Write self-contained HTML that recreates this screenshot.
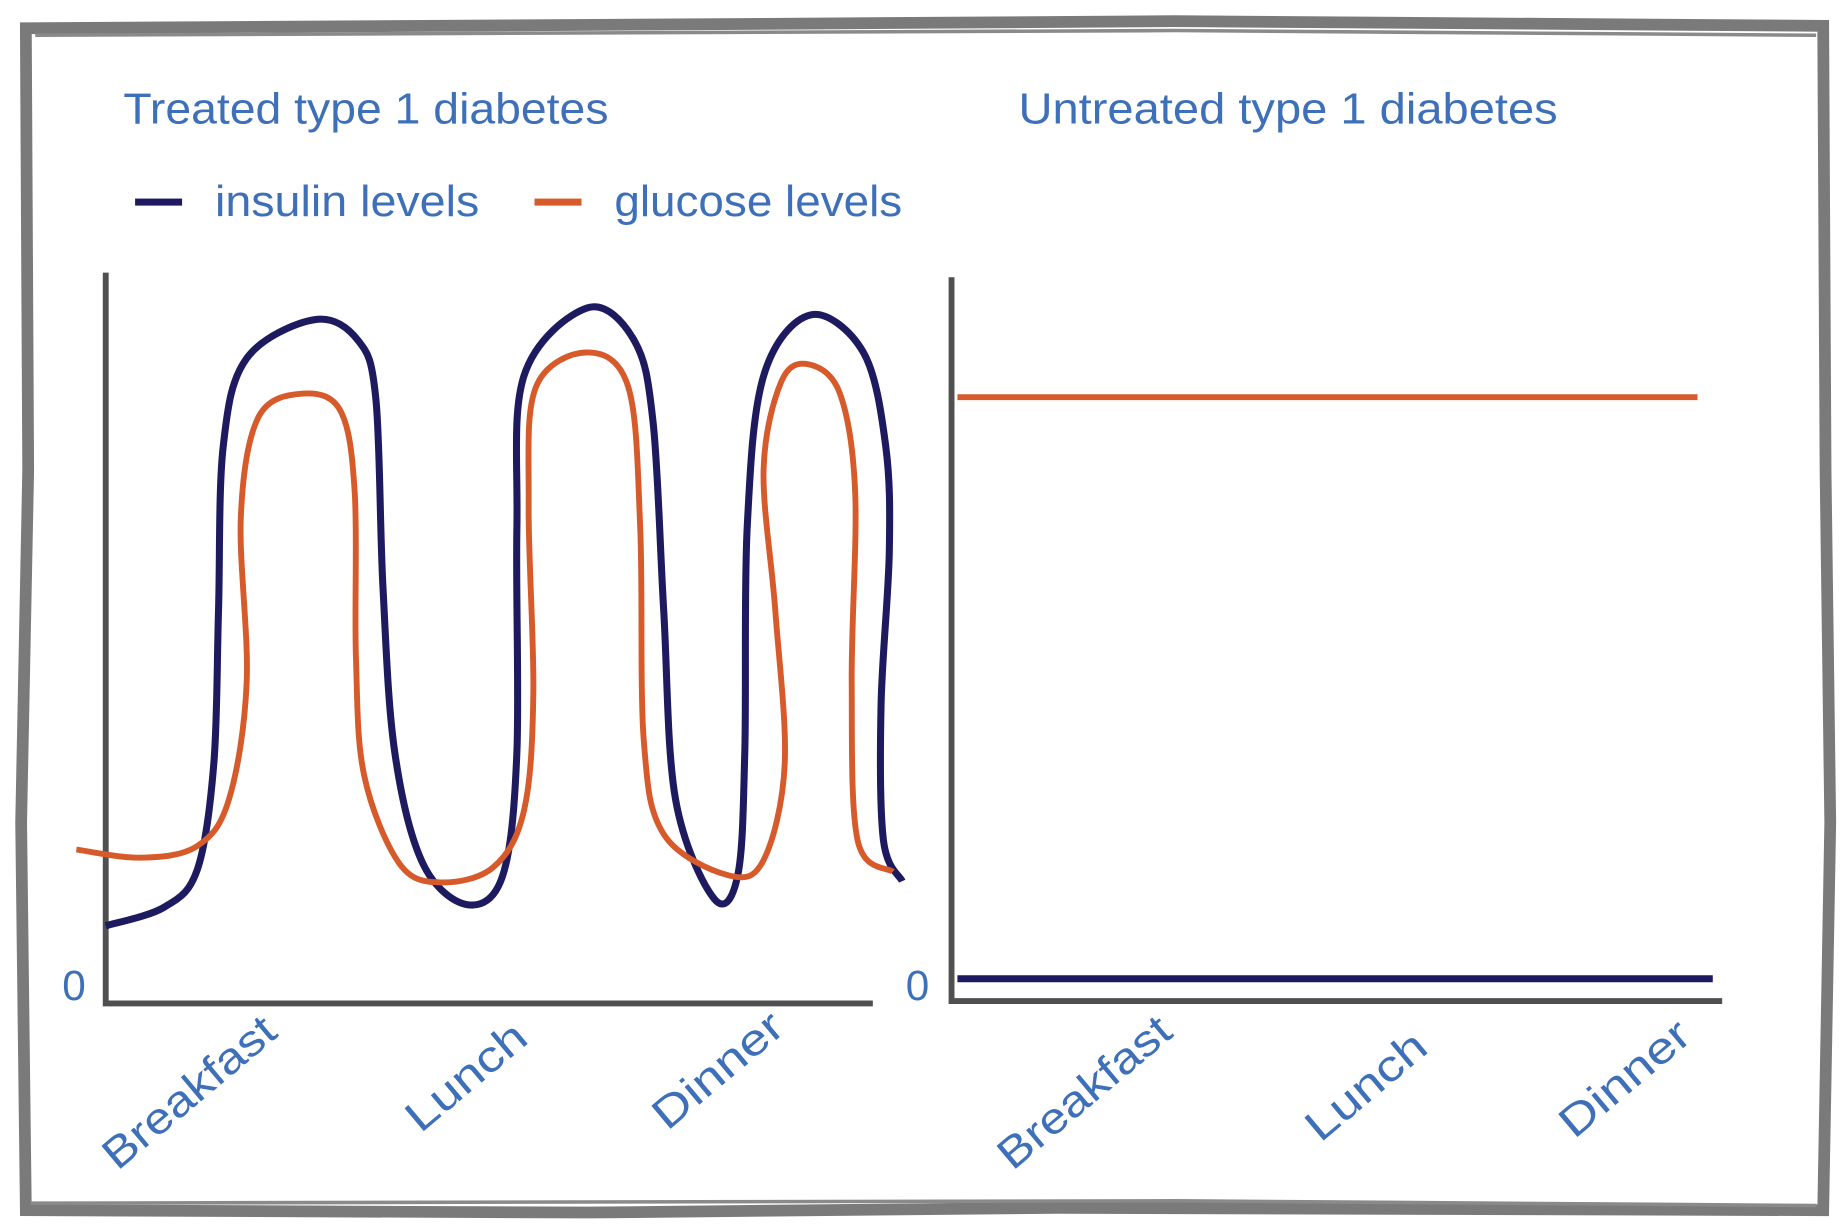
<!DOCTYPE html>
<html><head><meta charset="utf-8"><style>
html,body{margin:0;padding:0;background:#fff;}
svg{display:block}
text{font-family:"Liberation Sans",sans-serif;fill:#3e6fb9;}
</style></head><body>
<svg width="1842" height="1229" viewBox="0 0 1568 1046" preserveAspectRatio="none" xmlns="http://www.w3.org/2000/svg">
<rect width="1568" height="1046" fill="#fff"/>
<path d="M22,24 L700,20 L1000,18 L1552,22 L1554,400 L1558,700 L1552,1030 L900,1028 L500,1032 L22,1030 L18,700 L24,400 Z" fill="none" stroke="#7a7a7a" stroke-width="10"/>
<path d="M30,30 L1000,26 L1546,30" fill="none" stroke="#8a8a8a" stroke-width="3"/>
<path d="M26,1024 L1000,1022 L1546,1026" fill="none" stroke="#8a8a8a" stroke-width="3"/>

<text x="105" y="105" font-size="37" textLength="413" lengthAdjust="spacingAndGlyphs">Treated type 1 diabetes</text>
<text x="867" y="105" font-size="37" textLength="459" lengthAdjust="spacingAndGlyphs">Untreated type 1 diabetes</text>
<rect x="115" y="169" width="40" height="6" fill="#1e1a60"/>
<text x="183" y="184" font-size="37" textLength="225" lengthAdjust="spacingAndGlyphs">insulin levels</text>
<rect x="455" y="169" width="40" height="6" fill="#d65a2a"/>
<text x="523" y="184" font-size="37" textLength="245" lengthAdjust="spacingAndGlyphs">glucose levels</text>

<g stroke="#505050" stroke-width="5" fill="none">
<path d="M90,232 L90,854 L743,854"/>
<path d="M810,236 L810,852 L1466,852"/>
</g>
<text x="53" y="851" font-size="36">0</text>
<text x="771" y="851" font-size="36">0</text>

<g font-size="37">
<text transform="translate(100,997) rotate(-40)" textLength="180" lengthAdjust="spacingAndGlyphs">Breakfast</text>
<text transform="translate(358,965) rotate(-40)" textLength="122" lengthAdjust="spacingAndGlyphs">Lunch</text>
<text transform="translate(568,963) rotate(-40)" textLength="133" lengthAdjust="spacingAndGlyphs">Dinner</text>
<text transform="translate(862,997) rotate(-40)" textLength="180" lengthAdjust="spacingAndGlyphs">Breakfast</text>
<text transform="translate(1124,973) rotate(-40)" textLength="122" lengthAdjust="spacingAndGlyphs">Lunch</text>
<text transform="translate(1340,970) rotate(-40)" textLength="133" lengthAdjust="spacingAndGlyphs">Dinner</text>
</g>

<path id="ins" fill="none" stroke="#1e1a60" stroke-width="6"/>
<path id="glu" fill="none" stroke="#d65a2a" stroke-width="5"/>
<line x1="815" y1="338" x2="1445" y2="338" stroke="#d65a2a" stroke-width="5"/>
<line x1="815" y1="833" x2="1458" y2="833" stroke="#1e1a60" stroke-width="6"/>
</svg>
<script>
function cr(p){var d="M"+p[0][0]+","+p[0][1];for(var i=0;i<p.length-1;i++){var a=p[i-1]||p[i],b=p[i],c=p[i+1],e=p[i+2]||c;
d+=" C"+(b[0]+(c[0]-a[0])/6)+","+(b[1]+(c[1]-a[1])/6)+" "+(c[0]-(e[0]-b[0])/6)+","+(c[1]-(e[1]-b[1])/6)+" "+c[0]+","+c[1];}return d;}
var ins=[[90,788],[140,772],[168,740],[182,650],[186,520],[190,380],[210,305],[268,272],[305,290],[320,340],[326,500],[336,640],[360,735],[398,770],[428,745],[440,640],[440,450],[446,320],[500,262],[540,290],[556,360],[565,520],[575,680],[608,765],[628,745],[634,640],[636,450],[650,320],[690,268],[735,300],[754,380],[757,470],[750,600],[752,715],[768,750]];
var glu=[[65,723],[120,730],[168,720],[195,680],[210,580],[205,440],[220,355],[258,335],[290,350],[302,420],[303,560],[310,660],[340,735],[375,751],[420,738],[446,690],[454,590],[450,430],[456,330],[500,300],[535,330],[545,450],[548,630],[565,710],[620,745],[650,732],[668,650],[660,520],[650,400],[665,325],[688,310],[715,335],[728,420],[725,580],[730,715],[760,742]];
document.getElementById("ins").setAttribute("d",cr(ins));
document.getElementById("glu").setAttribute("d",cr(glu));
</script>
</body></html>
